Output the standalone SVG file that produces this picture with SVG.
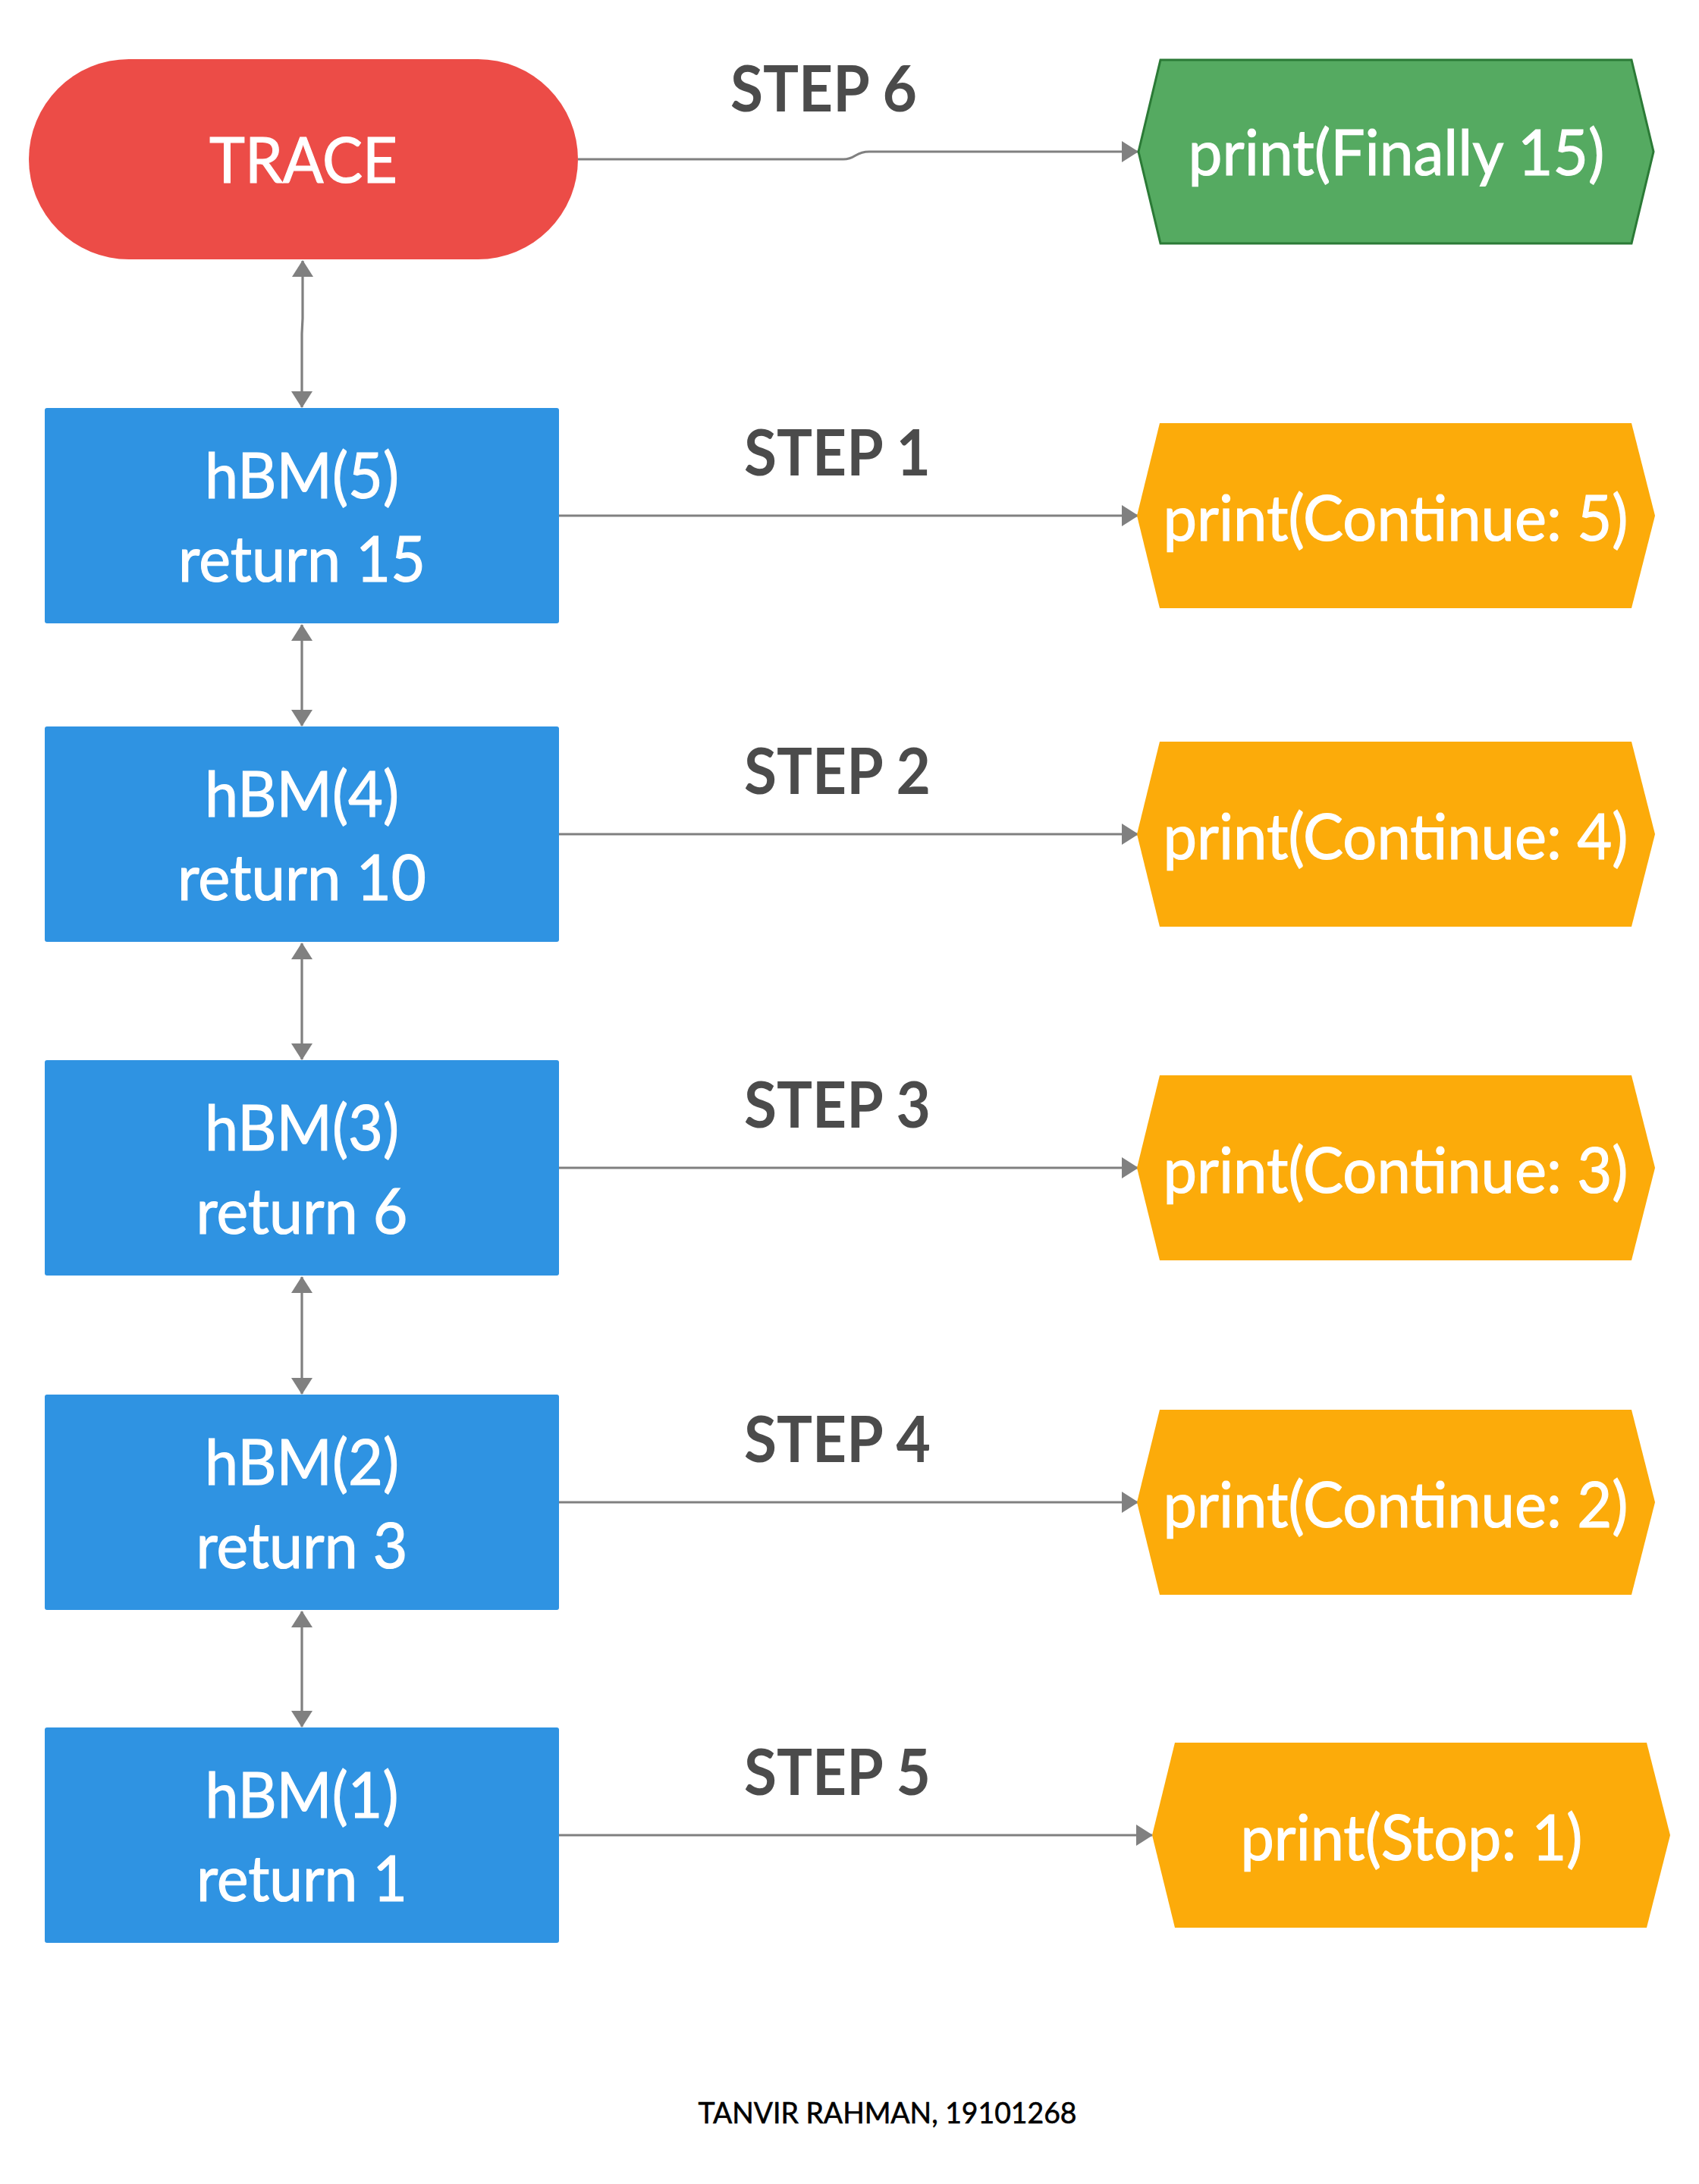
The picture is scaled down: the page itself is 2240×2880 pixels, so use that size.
<svg xmlns="http://www.w3.org/2000/svg" width="2240" height="2880" viewBox="0 0 2240 2880">
<style>
.lbl{font-family:Lato,"Liberation Sans",sans-serif;font-size:84px;fill:#ffffff;stroke:#ffffff;stroke-width:1.2px;text-anchor:middle}
.step{font-family:Lato,"Liberation Sans",sans-serif;font-size:84px;font-weight:bold;fill:#4b4b4b;text-anchor:middle}
.box{fill:#2f93e2}
.hex{fill:#fcab0a}
.con{fill:none;stroke:#808080;stroke-width:3.2}
</style>
<defs>
<marker id="ah" viewBox="0 0 22 28" refX="21" refY="14" markerWidth="22" markerHeight="28" markerUnits="userSpaceOnUse" orient="auto-start-reverse">
<path d="M0,0 L22,14 L0,28 Z" fill="#808080"/>
</marker>
</defs>
<rect width="2240" height="2880" fill="#ffffff"/>

<g id="connectors">
<path class="con" d="M399,344 L399,420 L398,440 L398,537" marker-start="url(#ah)" marker-end="url(#ah)"/>
<path class="con" d="M398,824 L398,957" marker-start="url(#ah)" marker-end="url(#ah)"/>
<path class="con" d="M398,1244 L398,1397" marker-start="url(#ah)" marker-end="url(#ah)"/>
<path class="con" d="M398,1684 L398,1838" marker-start="url(#ah)" marker-end="url(#ah)"/>
<path class="con" d="M398,2125 L398,2277" marker-start="url(#ah)" marker-end="url(#ah)"/>
<path class="con" d="M762,210 L1112,210 Q1120,210 1128,205 Q1136,200 1146,200 L1500,200" marker-end="url(#ah)"/>
<path class="con" d="M737,680 L1500,680" marker-end="url(#ah)"/>
<path class="con" d="M737,1100 L1500,1100" marker-end="url(#ah)"/>
<path class="con" d="M737,1540 L1500,1540" marker-end="url(#ah)"/>
<path class="con" d="M737,1981 L1500,1981" marker-end="url(#ah)"/>
<path class="con" d="M737,2420 L1519,2420" marker-end="url(#ah)"/>
<path d="M125,557.5 L135,557.5" stroke="#808080" stroke-width="3"/>
<text class="step" x="1086" y="147" textLength="246" lengthAdjust="spacingAndGlyphs">STEP 6</text>
<text class="step" x="1104" y="627" textLength="246" lengthAdjust="spacingAndGlyphs">STEP 1</text>
<text class="step" x="1104" y="1047" textLength="246" lengthAdjust="spacingAndGlyphs">STEP 2</text>
<text class="step" x="1104" y="1487" textLength="246" lengthAdjust="spacingAndGlyphs">STEP 3</text>
<text class="step" x="1104" y="1928" textLength="246" lengthAdjust="spacingAndGlyphs">STEP 4</text>
<text class="step" x="1104" y="2367" textLength="246" lengthAdjust="spacingAndGlyphs">STEP 5</text>
</g>

<g id="trace">
<rect x="38" y="78" width="724" height="264" rx="132" ry="132" fill="#ec4c47"/>
<text class="lbl" x="400" y="241" font-size="83" textLength="248" lengthAdjust="spacingAndGlyphs">TRACE</text>
</g>

<g id="finally">
<polygon points="1501,200 1530,79 2151,79 2180,200 2151,321 1530,321" fill="#55aa61" stroke="#2b7a36" stroke-width="3"/>
<text class="lbl" x="1841" y="231" textLength="549" lengthAdjust="spacingAndGlyphs">print(Finally 15)</text>
</g>

<g id="hbm5">
<rect class="box" x="59" y="538" width="678" height="284" rx="3"/>
<text class="lbl" x="398" y="657" textLength="256" lengthAdjust="spacingAndGlyphs">hBM(5)</text>
<text class="lbl" x="398" y="767" textLength="326" lengthAdjust="spacingAndGlyphs">return 15</text>
</g>
<g id="hbm4">
<rect class="box" x="59" y="958" width="678" height="284" rx="3"/>
<text class="lbl" x="398" y="1077" textLength="256" lengthAdjust="spacingAndGlyphs">hBM(4)</text>
<text class="lbl" x="398" y="1187" textLength="328" lengthAdjust="spacingAndGlyphs">return 10</text>
</g>
<g id="hbm3">
<rect class="box" x="59" y="1398" width="678" height="284" rx="3"/>
<text class="lbl" x="398" y="1517" textLength="256" lengthAdjust="spacingAndGlyphs">hBM(3)</text>
<text class="lbl" x="398" y="1627" textLength="279" lengthAdjust="spacingAndGlyphs">return 6</text>
</g>
<g id="hbm2">
<rect class="box" x="59" y="1839" width="678" height="284" rx="3"/>
<text class="lbl" x="398" y="1958" textLength="256" lengthAdjust="spacingAndGlyphs">hBM(2)</text>
<text class="lbl" x="398" y="2068" textLength="279" lengthAdjust="spacingAndGlyphs">return 3</text>
</g>
<g id="hbm1">
<rect class="box" x="59" y="2278" width="678" height="284" rx="3"/>
<text class="lbl" x="398" y="2397" textLength="255" lengthAdjust="spacingAndGlyphs">hBM(1)</text>
<text class="lbl" x="398" y="2507" textLength="278" lengthAdjust="spacingAndGlyphs">return 1</text>
</g>

<g id="cont5">
<polygon class="hex" points="1499,680 1529,558 2151,558 2182,680 2151,802 1529,802"/>
<text class="lbl" x="1840" y="713" textLength="613" lengthAdjust="spacingAndGlyphs">print(Continue: 5)</text>
</g>
<g id="cont4">
<polygon class="hex" points="1499,1100 1529,978 2151,978 2182,1100 2151,1222 1529,1222"/>
<text class="lbl" x="1840" y="1133" textLength="613" lengthAdjust="spacingAndGlyphs">print(Continue: 4)</text>
</g>
<g id="cont3">
<polygon class="hex" points="1499,1540 1529,1418 2151,1418 2182,1540 2151,1662 1529,1662"/>
<text class="lbl" x="1840" y="1573" textLength="613" lengthAdjust="spacingAndGlyphs">print(Continue: 3)</text>
</g>
<g id="cont2">
<polygon class="hex" points="1499,1981 1529,1859 2151,1859 2182,1981 2151,2103 1529,2103"/>
<text class="lbl" x="1840" y="2014" textLength="613" lengthAdjust="spacingAndGlyphs">print(Continue: 2)</text>
</g>
<g id="stop1">
<polygon class="hex" points="1519,2420 1549,2298 2171,2298 2202,2420 2171,2542 1549,2542"/>
<text class="lbl" x="1861" y="2453" textLength="451" lengthAdjust="spacingAndGlyphs">print(Stop: 1)</text>
</g>

<g id="footer">
<text x="1170" y="2800" font-family="Lato, 'Liberation Sans', sans-serif" font-size="38" fill="#000000" stroke="#000000" stroke-width="0.6" text-anchor="middle" textLength="499" lengthAdjust="spacingAndGlyphs">TANVIR RAHMAN, 19101268</text>
</g>
</svg>
